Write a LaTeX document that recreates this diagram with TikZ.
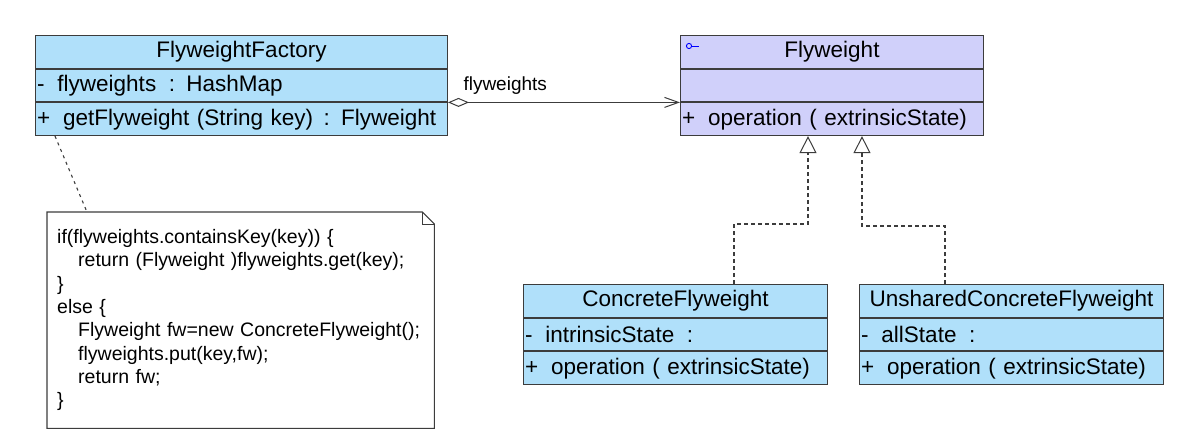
\documentclass[tikz,border=0pt]{standalone}
\usepackage{fontspec}
\setmainfont{Liberation Sans}
\usetikzlibrary{arrows.meta}
\definecolor{clsblue}{RGB}{176,224,250}
\definecolor{clslav}{RGB}{208,208,250}
\definecolor{edgecol}{RGB}{60,60,60}
\newcommand\vsp{\hspace{13pt}}
\begin{document}
\begin{tikzpicture}[x=1pt,y=-1pt,
  comp/.style={draw=edgecol, line width=1pt, minimum height=32.7pt, inner xsep=1.5pt, inner ysep=0pt,
     font=\fontsize{22.5}{26}\selectfont, text=black, anchor=north west},
  hdr/.style={comp, align=center},
  body/.style={comp, align=left},
  conn/.style={draw=edgecol, line width=1pt},
  realize/.style={conn, line width=1.2pt, dash pattern=on 4pt off 3pt, -{Triangle[open, length=17pt, width=17pt, line width=1pt]}},
  notetext/.style={font=\fontsize{19.5}{23.3}\selectfont, align=left, inner xsep=10pt, inner ysep=0pt,
     minimum height=216pt, anchor=north west}
]
\useasboundingbox (0,0) rectangle (1204,444);

% FlyweightFactory
\node[hdr, fill=clsblue, text width=409pt] (ffH) at (35,35) {FlyweightFactory};
\node[body, fill=clsblue, text width=409pt] (ffA) at (ffH.south west) {-\vsp flyweights\hspace{5pt} : HashMap};
\node[body, fill=clsblue, text width=409pt] (ffM) at (ffA.south west) {+\vsp getFlyweight (String key)\hspace{3pt} : Flyweight};

% Flyweight
\node[hdr, fill=clslav, text width=300pt] (fwH) at (680,35) {Flyweight};
\node[body, fill=clslav, text width=300pt] (fwA) at (fwH.south west) {};
\node[body, fill=clslav, text width=300pt] (fwM) at (fwA.south west) {+\vsp operation ( extrinsicState)};
\draw[blue, line width=0.9pt] ([xshift=9pt,yshift=-11pt]fwH.north west) circle (2.6pt);
\draw[blue, line width=0.9pt] ([xshift=11.6pt,yshift=-11pt]fwH.north west) -- ++(7,0);

% ConcreteFlyweight
\node[hdr, fill=clsblue, text width=301pt] (cfH) at (523,284) {ConcreteFlyweight};
\node[body, fill=clsblue, text width=301pt] (cfA) at (cfH.south west) {-\vsp intrinsicState\hspace{5pt} :};
\node[body, fill=clsblue, text width=301pt] (cfM) at (cfA.south west) {+\vsp operation ( extrinsicState)};

% UnsharedConcreteFlyweight
\node[hdr, fill=clsblue, text width=301pt] (ucH) at (859,284) {UnsharedConcreteFlyweight};
\node[body, fill=clsblue, text width=301pt] (ucA) at (ucH.south west) {-\vsp allState\hspace{5pt} :};
\node[body, fill=clsblue, text width=301pt] (ucM) at (ucA.south west) {+\vsp operation ( extrinsicState)};

% aggregation
\draw[conn, {Diamond[fill=white, length=21pt, width=9pt, line width=1pt]}-{Straight Barb[length=14pt, width=10pt, line width=1pt]}]
  (ffA.south east) -- node[pos=0.0, anchor=south west, inner sep=0pt, yshift=7pt, xshift=15pt, font=\fontsize{19}{22}\selectfont] (lbl) {flyweights} (fwA.south west);

% realizations
\draw[realize] ([xshift=211pt]cfH.north west) -- ++(0,-60) -| ([xshift=128pt]fwM.south west);
\draw[realize] ([xshift=86pt]ucH.north west) -- ++(0,-58) -| ([xshift=182pt]fwM.south west);

% note
\node[notetext, text width=367pt] (note) at (47,212) {%
if(flyweights.containsKey(key)) \{\\
\hspace*{21pt}return (Flyweight )flyweights.get(key);\\
\}\\
else \{\\
\hspace*{21pt}Flyweight fw=new ConcreteFlyweight();\\
\hspace*{21pt}flyweights.put(key,fw);\\
\hspace*{21pt}return fw;\\
\}};
\draw[draw=edgecol, line width=1.1pt] (note.north west) -- ([xshift=-12pt]note.north east) -- ([yshift=-12pt]note.north east) -- (note.south east) -- (note.south west) -- cycle;
\draw[draw=edgecol, line width=1pt] ([xshift=-12pt]note.north east) -- ([xshift=-12pt,yshift=-12pt]note.north east) -- ([yshift=-12pt]note.north east);
\draw[conn, line width=1.1pt, dash pattern=on 3pt off 4pt] ([xshift=20pt]ffM.south west) -- ([xshift=40pt]note.north west);
\end{tikzpicture}
\end{document}
